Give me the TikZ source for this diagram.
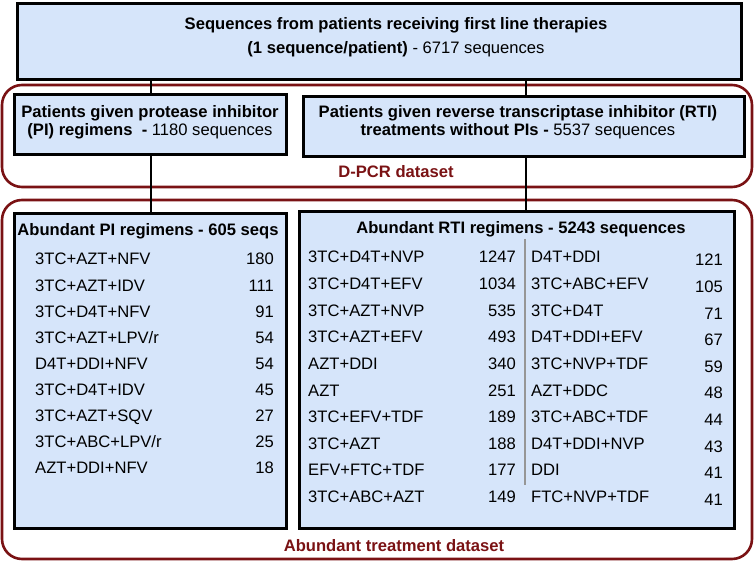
\documentclass[tikz,border=0pt]{standalone}
\usepackage{fontspec}
\setmainfont{Liberation Sans}
\definecolor{boxfill}{RGB}{214,229,250}
\definecolor{darkred}{RGB}{122,18,20}
\definecolor{sepgray}{RGB}{150,150,150}
\begin{document}
\begin{tikzpicture}[x=1pt,y=-1pt,
  bluebox/.style={draw=black,line width=2.6pt,fill=boxfill,anchor=north west,inner sep=0pt},
  frame/.style={draw=darkred,line width=2.6pt,rounded corners=20pt},
  conn/.style={draw=black,line width=2.6pt},
  txt/.style={font=\fontsize{16.6}{19}\selectfont,inner sep=0pt},
  row/.style={txt,anchor=base west},
  num/.style={txt,anchor=base east},
  lbl/.style={font=\fontsize{16.6}{19}\selectfont\bfseries,text=darkred,inner sep=0pt}]
\useasboundingbox (0,0) rectangle (756,564);
% frames
\draw[frame] (2,85) rectangle (752,187);
\draw[frame] (2,200) rectangle (752,559);
% boxes
\node[bluebox,minimum width=724pt,minimum height=76pt] (top) at (16,2) {};
\node[bluebox,minimum width=272pt,minimum height=60pt] (pi) at (13,93) {};
\node[bluebox,minimum width=441pt,minimum height=60pt] (rti) at (302,95) {};
\node[bluebox,minimum width=272pt,minimum height=315pt] (api) at (13,212) {};
\node[bluebox,minimum width=435pt,minimum height=317pt] (arti) at (298,210) {};
% connectors
\coordinate (cx1) at (151,0);
\coordinate (cx2) at (526,0);
\draw[conn] (top.south -| cx1) -- (pi.north -| cx1);
\draw[conn] (pi.south -| cx1) -- (api.north -| cx1);
\draw[conn] (top.south -| cx2) -- (rti.north -| cx2);
\draw[conn] (rti.south -| cx2) -- (arti.north -| cx2);
% top text
\node[txt] (t1) at (396,25) {\bfseries Sequences from patients receiving first line therapies};
\node[txt] (t2) at (396,49) {\textbf{(1 sequence/patient)} - 6717 sequences};
\node[txt] (p1) at (150,113) {\bfseries Patients given protease inhibitor};
\node[txt] (p2) at (150,131) {\textbf{(PI) regimens \ -} 1180 sequences};
\node[txt] (r1) at (518,113) {\bfseries Patients given reverse transcriptase inhibitor (RTI)};
\node[txt] (r2) at (518,131) {\textbf{treatments without PIs -} 5537 sequences};
\node[lbl] (dpcr) at (396,172) {D-PCR dataset};
\node[lbl] (abt) at (394,546) {Abundant treatment dataset};
% PI list
\node[txt,anchor=base] (pit) at (148,236) {\bfseries Abundant PI regimens - 605 seqs};
\foreach \n/\v [count=\i from 0] in {3TC+AZT+NFV/180,3TC+AZT+IDV/111,3TC+D4T+NFV/91,3TC+AZT+LPV\slash r/54,D4T+DDI+NFV/54,3TC+D4T+IDV/45,3TC+AZT+SQV/27,3TC+ABC+LPV\slash r/25,AZT+DDI+NFV/18}{
  \node[row] (pin\i) at (35,265+26.1*\i) {\n};
  \node[num] (piv\i) at (274,265+26.1*\i) {\v};
}
% RTI list
\node[txt,anchor=base] (rtit) at (521,234) {\bfseries Abundant RTI regimens - 5243 sequences};
\foreach \n/\v [count=\i from 0] in {3TC+D4T+NVP/1247,3TC+D4T+EFV/1034,3TC+AZT+NVP/535,3TC+AZT+EFV/493,AZT+DDI/340,AZT/251,3TC+EFV+TDF/189,3TC+AZT/188,EFV+FTC+TDF/177,3TC+ABC+AZT/149}{
  \node[row] (rln\i) at (308,263+26.6*\i) {\n};
  \node[num] (rlv\i) at (516,263+26.6*\i) {\v};
}
\foreach \n/\v [count=\i from 0] in {D4T+DDI/121,3TC+ABC+EFV/105,3TC+D4T/71,D4T+DDI+EFV/67,3TC+NVP+TDF/59,AZT+DDC/48,3TC+ABC+TDF/44,D4T+DDI+NVP/43,DDI/41,FTC+NVP+TDF/41}{
  \node[row] (rrn\i) at (531,263+26.6*\i) {\n};
  \node[num] (rrv\i) at (723,266+26.6*\i) {\v};
}
\draw[sepgray,line width=1.2pt] (525,239) -- (525,485);
\end{tikzpicture}
\end{document}
